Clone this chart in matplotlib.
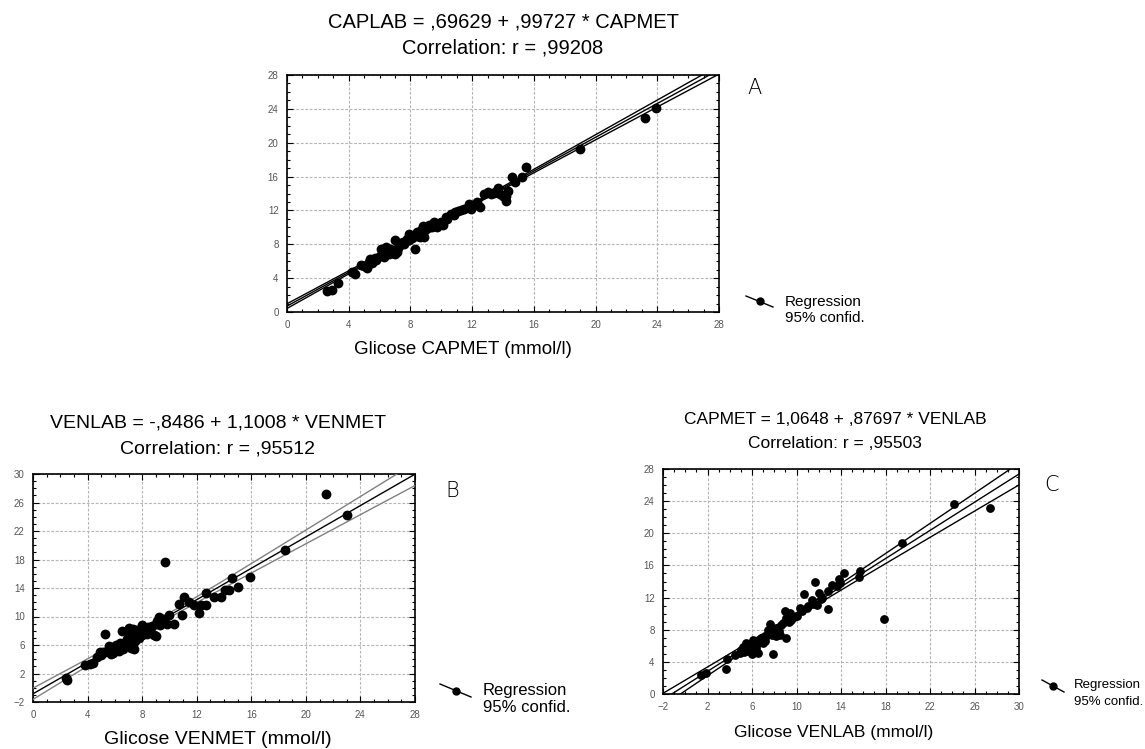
import numpy as np
import matplotlib.pyplot as plt
from matplotlib.lines import Line2D
from matplotlib.ticker import MultipleLocator

plt.rcParams['font.family'] = ['Liberation Sans', 'DejaVu Sans']

W, H = 1145, 749

# panel A: CAPMET (x) vs CAPLAB (y)
capmet_a = [2.6, 2.9, 3.3, 4.2, 4.4, 5.0, 5.2, 5.4, 5.5, 5.8, 6.0, 6.1, 6.3, 6.4, 6.6, 6.8, 6.9,
            7.0, 7.0, 7.1, 7.3, 7.5, 7.6, 7.9, 8.1, 8.3, 8.4, 8.6, 8.7, 8.8, 8.9, 9.0, 9.3, 9.5,
            9.7, 10.1, 10.3, 10.6, 10.9, 11.3, 11.8, 11.9, 12.5, 12.8, 13.0, 13.4, 13.7, 13.8,
            14.0, 14.2, 14.3, 14.2, 14.6, 14.8, 15.2, 15.5, 19.0, 23.2, 23.9,
            5.6, 6.2, 7.2, 7.8, 8.5, 9.2, 9.9,
            5.7, 6.5, 6.7, 7.4, 7.7, 8.0, 8.2, 8.9, 9.1, 9.4, 9.6, 10.0, 10.4, 10.8, 11.1,
            11.5, 12.0, 12.3, 13.2, 13.5, 4.8, 5.3, 7.9, 8.4, 9.8]
caplab_a = [2.5, 2.6, 3.4, 4.7, 4.5, 5.4, 5.2, 6.3, 5.8, 6.1, 6.6, 7.5, 6.5, 7.7, 6.9, 7.0, 7.3,
            6.8, 8.5, 7.1, 7.9, 8.3, 8.0, 9.2, 8.8, 7.4, 9.4, 8.9, 9.7, 10.2, 8.9, 9.8, 10.0, 10.6,
            10.1, 10.3, 11.2, 11.6, 11.8, 12.0, 12.8, 12.2, 12.4, 13.9, 14.2, 14.1, 14.6, 14.0,
            13.7, 13.1, 14.3, 13.7, 16.0, 15.4, 15.9, 17.1, 19.3, 22.9, 24.1,
            6.0, 6.9, 7.6, 8.6, 9.1, 10.3, 10.5,
            6.4, 7.2, 7.4, 8.1, 8.4, 8.7, 9.0, 9.6, 9.9, 10.1, 10.4, 10.6, 11.0, 11.5, 11.9,
            12.2, 12.6, 13.0, 13.9, 14.2, 5.5, 5.9, 8.5, 9.0, 10.4]

# panel B: VENMET (x) vs VENLAB (y)
venmet_b = [2.45, 2.5, 3.8, 4.2, 4.4, 4.9, 5.0, 5.3, 5.3, 5.6, 5.7, 6.0, 6.25, 6.5, 6.6, 6.75,
            7.0, 7.0, 7.2, 7.25, 7.3, 7.4, 7.6, 7.8, 8.0, 8.0, 8.2, 8.35, 8.6, 8.85, 9.0, 9.1,
            9.2, 9.3, 9.7, 9.8, 10.3, 10.7, 10.95, 11.1, 11.4, 11.8, 12.15, 12.3, 12.7, 12.7,
            13.3, 13.8, 14.1, 14.4, 14.6, 15.0, 15.9, 18.5, 21.5, 23.0,
            5.9, 6.3, 7.5, 7.7, 8.4,
            5.5, 6.1, 6.4, 6.9, 7.1, 7.6, 7.9, 8.3, 8.7, 9.0, 9.5, 10.0, 5.1, 4.7, 8.1]
venlab_b = [1.4, 1.1, 3.2, 3.4, 3.5, 5.0, 4.6, 7.6, 5.0, 5.8, 4.7, 5.3, 5.8, 7.9, 5.5, 6.2,
            6.7, 8.4, 5.6, 6.0, 8.3, 5.5, 8.1, 7.0, 8.8, 7.4, 8.2, 7.6, 8.1, 7.4, 7.2, 9.3,
            10.0, 8.8, 17.7, 9.0, 9.0, 11.8, 10.2, 12.8, 12.1, 11.6, 10.5, 11.6, 11.6, 13.3,
            12.8, 12.8, 13.7, 13.7, 15.4, 14.1, 15.6, 19.4, 27.2, 24.2,
            4.9, 5.2, 6.5, 7.3, 8.5,
            5.2, 6.0, 6.3, 6.8, 7.2, 7.4, 7.9, 8.3, 8.6, 9.0, 9.6, 10.2, 5.0, 4.3, 7.9]

# panel C: VENLAB (x) vs CAPMET (y)
venlab_c = [1.45, 1.85, 3.65, 3.75, 4.45, 4.9, 5.05, 5.2, 5.5, 5.65, 5.8, 6.1, 6.4, 6.55, 6.7,
            7.0, 7.3, 7.45, 7.65, 7.9, 7.9, 8.2, 8.2, 8.5, 8.65, 8.95, 9.1, 9.1, 9.4, 9.55, 10.0,
            10.3, 10.65, 10.9, 11.35, 11.7, 11.8, 12.0, 12.25, 12.8, 12.85, 13.15, 13.6, 13.85,
            13.9, 14.25, 15.6, 15.75, 17.85, 19.5, 24.2, 27.4,
            5.3, 5.9, 6.2, 6.0, 7.2, 8.0, 8.4, 6.9,
            5.4, 5.7, 6.3, 6.5, 6.8, 7.1, 7.6, 7.8, 8.1, 8.8, 9.3, 9.8, 10.5, 11.0, 11.5, 12.2]
capmet_c = [2.4, 2.6, 3.15, 4.3, 4.9, 5.1, 5.5, 5.9, 6.3, 5.3, 6.1, 6.75, 5.7, 5.1, 6.5,
            6.3, 7.2, 8.0, 8.7, 5.0, 7.8, 7.2, 8.2, 7.4, 8.6, 10.3, 7.0, 9.4, 10.1, 9.2, 9.65,
            10.7, 12.4, 10.7, 11.7, 14.0, 11.1, 12.55, 11.9, 10.6, 12.8, 13.6, 13.4, 14.3,
            13.8, 15.1, 14.55, 15.25, 9.35, 18.85, 23.7, 23.1,
            5.2, 5.5, 6.2, 5.0, 6.6, 7.5, 7.9, 6.9,
            5.8, 6.0, 6.6, 6.4, 7.0, 6.9, 7.6, 7.3, 8.0, 8.8, 9.0, 9.6, 10.3, 11.0, 11.2, 11.8]

# regression coefficients as printed in the titles
coef_a = (0.69629, 0.99727)
coef_b = (-0.8486, 1.1008)
coef_c = (1.0648, 0.87697)


def px(x, y):
    return x / W, 1 - y / H


def box(l, t, r, b):
    return [l / W, 1 - b / H, (r - l) / W, (b - t) / H]


def panel(ax, x, y, coef, xlim, ylim, band_color, ms):
    x = np.array(x)
    y = np.array(y)
    a, b = coef
    xs = np.linspace(xlim[0] - 1, xlim[1] + 1, 200)
    fit = a + b * xs
    res = y - (a + b * x)
    n = len(x)
    s = np.sqrt(np.sum(res ** 2) / (n - 2))
    sxx = np.sum((x - x.mean()) ** 2)
    half = 1.98 * s * np.sqrt(1 / n + (xs - x.mean()) ** 2 / sxx)
    ax.plot(xs, fit, color='black', lw=1.0, zorder=3)
    ax.plot(xs, fit + half, color=band_color, lw=1.0, zorder=3)
    ax.plot(xs, fit - half, color=band_color, lw=1.0, zorder=3)
    ax.scatter(x, y, s=ms, color='black', zorder=4, linewidths=0)
    ax.set_xlim(xlim)
    ax.set_ylim(ylim)
    ax.xaxis.set_major_locator(MultipleLocator(4))
    ax.yaxis.set_major_locator(MultipleLocator(4))
    ax.xaxis.set_minor_locator(MultipleLocator(1))
    ax.yaxis.set_minor_locator(MultipleLocator(1))
    ax.grid(True, which='major', color='#b5b5b5', linestyle=(0, (2.5, 1.5)), lw=0.8)
    ax.tick_params(which='both', direction='in', top=True, right=True,
                   labelsize=7, labelcolor='#555555', pad=6, width=0.8)
    ax.tick_params(which='major', length=4)
    ax.tick_params(which='minor', length=2.5)
    for sp in ax.spines.values():
        sp.set_linewidth(1.2)


def legend_mark(fig, x0, y0, x1, y1, tx, ty1, ty2, fs):
    fig.add_artist(Line2D([x0 / W, x1 / W], [1 - y0 / H, 1 - y1 / H],
                          color='black', lw=1.0, transform=fig.transFigure))
    fig.add_artist(Line2D([(x0 + x1) / 2 / W], [1 - (y0 + y1) / 2 / H], marker='o',
                          ms=5, color='black', transform=fig.transFigure))
    fig.text(*px(tx, ty1), 'Regression', fontsize=fs, va='center', ha='left')
    fig.text(*px(tx, ty2), '95% confid.', fontsize=fs, va='center', ha='left')


fig = plt.figure(figsize=(W / 100, H / 100), dpi=100)

axA = fig.add_axes(box(287, 75, 719, 312))
panel(axA, capmet_a, caplab_a, coef_a, (0, 28), (0, 28), 'black', 50)
axB = fig.add_axes(box(33, 474, 415, 702))
panel(axB, venmet_b, venlab_b, coef_b, (0, 28), (-2, 30), '#808080', 50)
axB.yaxis.set_major_locator(MultipleLocator(4, offset=2))
axC = fig.add_axes(box(663, 469, 1019, 694))
panel(axC, venlab_c, capmet_c, coef_c, (-2, 30), (0, 28), 'black', 40)
axC.xaxis.set_major_locator(MultipleLocator(4, offset=2))

# titles
fig.text(*px(503, 22), 'CAPLAB = ,69629 + ,99727 * CAPMET', fontsize=14.5, ha='center', va='center')
fig.text(*px(503, 48), 'Correlation: r = ,99208', fontsize=14.5, ha='center', va='center')
fig.text(*px(218, 423), 'VENLAB = -,8486 + 1,1008 * VENMET', fontsize=14, ha='center', va='center')
fig.text(*px(218, 449), 'Correlation: r = ,95512', fontsize=14, ha='center', va='center')
fig.text(*px(835, 420), 'CAPMET = 1,0648 + ,87697 * VENLAB', fontsize=12.5, ha='center', va='center')
fig.text(*px(835, 443), 'Correlation: r = ,95503', fontsize=12.5, ha='center', va='center')

# x labels
fig.text(*px(463, 349), 'Glicose CAPMET (mmol/l)', fontsize=13.5, ha='center', va='center')
fig.text(*px(218, 740), 'Glicose VENMET (mmol/l)', fontsize=14, ha='center', va='center')
fig.text(*px(834, 732), 'Glicose VENLAB (mmol/l)', fontsize=12.5, ha='center', va='center')

# panel letters
for lab, xx, yy in [('A', 755, 88), ('B', 452, 491), ('C', 1052, 485)]:
    fig.text(*px(xx, yy), lab, fontsize=15, ha='center', va='center',
             family=['DejaVu Sans'], fontweight='light')

# legends
legend_mark(fig, 746, 296, 773, 307, 785, 302, 318, 11)
legend_mark(fig, 440, 684, 471, 697, 483, 690, 707, 12)
legend_mark(fig, 1042, 680, 1064, 692, 1074, 685, 702, 9.5)

fig.savefig('out.png', dpi=100)
